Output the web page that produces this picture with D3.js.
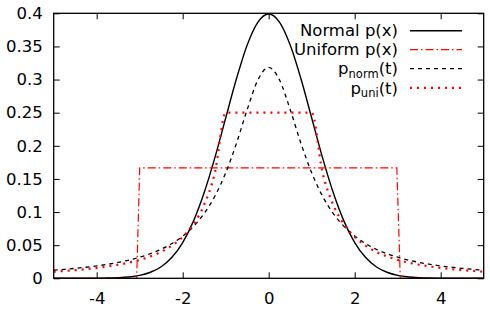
<!DOCTYPE html>
<html><head><meta charset="utf-8">
<script src="https://cdn.jsdelivr.net/npm/d3@7"></script>
<style>body{margin:0;background:#fff}svg{display:block}text{font-family:"DejaVu Sans",sans-serif}</style>
</head><body><svg id="c" width="490" height="312"></svg>
<script>
const xs = [-5,-4.75,-4.5,-4.25,-4,-3.75,-3.5,-3.25,-3,-2.75,-2.5,-2.25,-2,-1.75,-1.5,-1.25,-1,-0.75,-0.5,-0.25,0,0.25,0.5,0.75,1,1.25,1.5,1.75,2,2.25,2.5,2.75,3,3.25,3.5,3.75,4,4.25,4.5,4.75,5];
const normalP = [0,0,0,0,0.0001,0.0004,0.0009,0.0020,0.0044,0.0091,0.0175,0.0317,0.0540,0.0863,0.1295,0.1826,0.2420,0.3011,0.3521,0.3867,0.3989,0.3867,0.3521,0.3011,0.2420,0.1826,0.1295,0.0863,0.0540,0.0317,0.0175,0.0091,0.0044,0.0020,0.0009,0.0004,0.0001,0,0,0,0];
const pNormT = [0.0122,0.0135,0.0150,0.0167,0.0187,0.0211,0.0240,0.0275,0.0318,0.0372,0.0439,0.0525,0.0637,0.0784,0.0979,0.1242,0.1592,0.2037,0.2546,0.2996,0.3183,0.2996,0.2546,0.2037,0.1592,0.1242,0.0979,0.0784,0.0637,0.0525,0.0439,0.0372,0.0318,0.0275,0.0240,0.0211,0.0187,0.0167,0.0150,0.0135,0.0122];
const pUniT = [0.0100,0.0111,0.0123,0.0138,0.0156,0.0178,0.0204,0.0237,0.0278,0.0331,0.0400,0.0494,0.0625,0.0816,0.1111,0.1600,0.25,0.25,0.25,0.25,0.25,0.25,0.25,0.25,0.25,0.1600,0.1111,0.0816,0.0625,0.0494,0.0400,0.0331,0.0278,0.0237,0.0204,0.0178,0.0156,0.0138,0.0123,0.0111,0.0100];
const uniXs = [-5,-3.07,-3,2.98,3.06,5];
const uniformP = [0,0,0.1667,0.1667,0,0];
const xTicks = [-4,-2,0,2,4];
const xTickLabels = ["-4","-2","0","2","4"];
const yTicks = [0,0.05,0.1,0.15,0.2,0.25,0.3,0.35,0.4];
const yTickLabels = ["0","0.05","0.1","0.15","0.2","0.25","0.3","0.35","0.4"];
const legendLabels = [["Normal p(x)",null],["Uniform p(x)",null],["p","norm","(t)"],["p","uni","(t)"]];

const svg = d3.select("#c");
const L=53.7,R=483.7,T=13.3,B=278.3;
const FS = 16.5;
const x = d3.scaleLinear().domain([-5,5]).range([L,R]);
const y = d3.scaleLinear().domain([0,0.4]).range([B,T]);
svg.append("defs").append("clipPath").attr("id","cp").append("rect").attr("x",L).attr("y",T-2).attr("width",R-L).attr("height",B-T+2);

const series = [
  {xv:xs, yv:normalP, color:"#000", dash:null, w:1.4, curve:d3.curveMonotoneX},
  {xv:uniXs, yv:uniformP, color:"#f00", dash:"8,3,1.5,3", w:1.2, curve:d3.curveLinear},
  {xv:xs, yv:pNormT, color:"#000", dash:"4,4", w:1.3, curve:d3.curveMonotoneX},
  {xv:xs, yv:pUniT, color:"#f00", dash:"2,5", w:2.2, curve:d3.curveMonotoneX}
];
const g = svg.append("g").attr("clip-path","url(#cp)");
series.forEach(s=>{
  const line = d3.line().x((d,i)=>x(s.xv[i])).y(d=>y(d)).curve(s.curve);
  g.append("path").attr("d",line(s.yv)).attr("fill","none").attr("stroke",s.color)
   .attr("stroke-width",s.w).attr("stroke-dasharray",s.dash);
});

svg.append("rect").attr("x",L).attr("y",T).attr("width",R-L).attr("height",B-T)
  .attr("fill","none").attr("stroke","#000").attr("stroke-width",1.3);

const tl = 6;
const axB = d3.axisBottom(x).tickValues(xTicks).tickSizeInner(-tl).tickSizeOuter(0).tickPadding(14).tickFormat((d,i)=>xTickLabels[i]);
const axT = d3.axisTop(x).tickValues(xTicks).tickSizeInner(-tl).tickSizeOuter(0).tickFormat("");
const axL = d3.axisLeft(y).tickValues(yTicks).tickSizeInner(-tl).tickSizeOuter(0).tickPadding(11).tickFormat((d,i)=>yTickLabels[i]);
const axR = d3.axisRight(y).tickValues(yTicks).tickSizeInner(-tl).tickSizeOuter(0).tickFormat("");
function style(sel){sel.select(".domain").remove();sel.selectAll("line").attr("stroke","#000").attr("stroke-width",1);sel.selectAll("text").attr("fill","#000").attr("font-size",FS).attr("font-family","DejaVu Sans");}
svg.append("g").attr("transform",`translate(0,${B})`).call(axB).call(style);
svg.append("g").attr("transform",`translate(0,${T})`).call(axT).call(style);
svg.append("g").attr("transform",`translate(${L},0)`).call(axL).call(style);
svg.append("g").attr("transform",`translate(${R},0)`).call(axR).call(style);

const lg = svg.append("g");
const rowY = [30.7,49.6,68.6,87.8];
series.forEach((s,i)=>{
  const t = lg.append("text").attr("x",398).attr("y",rowY[i]).attr("dy","0.35em").attr("text-anchor","end").attr("font-size",FS).attr("fill","#000");
  const lab = legendLabels[i];
  if(lab[1]===null){ t.text(lab[0]); }
  else {
    t.append("tspan").text(lab[0]);
    t.append("tspan").text(lab[1]).attr("font-size",11.5).attr("dy",3.5);
    t.append("tspan").text(lab[2]).attr("dy",-3.5);
  }
  lg.append("line").attr("x1",410).attr("x2",462).attr("y1",rowY[i]).attr("y2",rowY[i])
    .attr("stroke",s.color).attr("stroke-width",s.w).attr("stroke-dasharray",s.dash);
});
</script></body></html>
